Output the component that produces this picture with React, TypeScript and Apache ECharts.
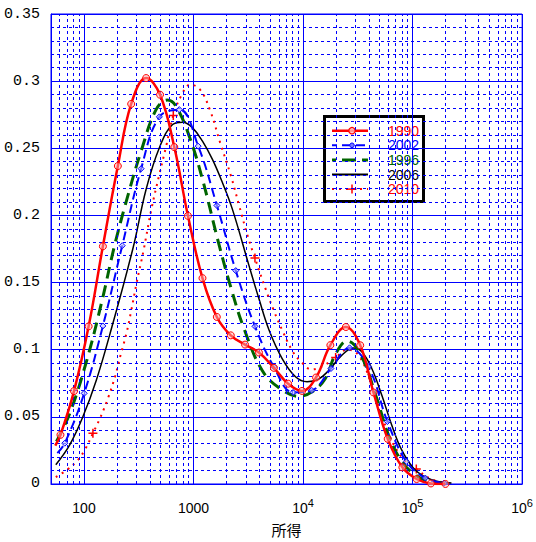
import React, { useEffect, useRef } from "react";
import * as echarts from "echarts";

// ---- data ----
const legendNames = ["1990", "2002", "1996", "2006", "2010"];

const x1990 = [54.7, 61.0, 81.1, 110.3, 148.8, 203.8, 269.7, 369.3, 494.9, 667.5, 889.5, 1207, 1632, 2188, 2951, 3957, 5415, 7305, 9793, 13130, 17750, 24600, 33250, 43920, 59260, 80620, 108750, 147000, 199500];
const y1990 = [0.0285, 0.0366, 0.0692, 0.1174, 0.177, 0.2368, 0.283, 0.3023, 0.2899, 0.2509, 0.1997, 0.1533, 0.1244, 0.1107, 0.1038, 0.0979, 0.0865, 0.0747, 0.0693, 0.0793, 0.1034, 0.1169, 0.1033, 0.0682, 0.0336, 0.0124, 0.0037, 0.0004, 0.0];
const unmarked1990 = [0];

const x2002 = [57.1, 66.8, 100.4, 148.8, 223.4, 332.5, 487.8, 741.3, 1103, 1635, 2430, 3638, 5415, 8111, 12000, 17970, 26580, 39570, 58880, 87640, 130500, 194200];
const y2002 = [0.023, 0.0304, 0.0675, 0.1177, 0.1775, 0.2348, 0.2734, 0.2788, 0.2516, 0.2074, 0.1589, 0.1174, 0.0873, 0.0682, 0.0697, 0.086, 0.1014, 0.0873, 0.0465, 0.0168, 0.0044, 0.0007];
const unmarked2002 = [0];

const x1996 = [56.1, 74.1, 105.1, 143.9, 190.1, 251.2, 332.5, 455.1, 576.8, 691.8, 913.9, 1207, 1688, 2188, 2890, 4240, 6140, 9140, 12070, 15980, 19700, 25230, 33250, 47070, 60130, 79430, 105100, 138900, 190100];
const y1996 = [0.0317, 0.0526, 0.091, 0.1342, 0.1775, 0.2145, 0.2479, 0.2788, 0.2859, 0.2813, 0.259, 0.2269, 0.18, 0.1466, 0.1157, 0.0845, 0.0712, 0.0653, 0.0687, 0.0786, 0.0964, 0.1064, 0.0971, 0.0638, 0.0366, 0.0168, 0.0069, 0.002, 0.0002];

const x2006 = [55.3, 74.1, 97.9, 129.6, 171.2, 279.0, 369.3, 487.8, 644.3, 794.3, 979.3, 1207, 1488, 1834, 2262, 3210, 3957, 4878, 6443, 8530, 10870, 13890, 17120, 22620, 28900, 34390, 42400, 52260, 64430, 79430, 105100, 148800, 226200];
const y2006 = [0.0143, 0.0291, 0.0502, 0.0773, 0.1107, 0.175, 0.2195, 0.2504, 0.2677, 0.2694, 0.2652, 0.2553, 0.2417, 0.2245, 0.2047, 0.1626, 0.1379, 0.1149, 0.0934, 0.0799, 0.0762, 0.0782, 0.0845, 0.0959, 0.1012, 0.0984, 0.086, 0.0662, 0.044, 0.0254, 0.0106, 0.0032, 0.0007];

const x2010 = [55.3, 70.1, 88.2, 103.0, 120.7, 141.0, 166.7, 193.0, 215.6, 243.0, 265.8, 303.3, 348.9, 412.6, 487.8, 564.6, 653.8, 773.0, 933.3, 1150, 1418, 1749, 2202, 2603, 3144, 3638, 4581, 5415, 6540, 8062, 9732, 12000, 15430, 19830, 25500, 32780, 43920, 60130, 80620, 108100, 147900, 198300];
const y2010 = [0.0052, 0.0106, 0.018, 0.0262, 0.0378, 0.0495, 0.0645, 0.0806, 0.0959, 0.1115, 0.1263, 0.1503, 0.1735, 0.2047, 0.2306, 0.2521, 0.2744, 0.2892, 0.2974, 0.2936, 0.2781, 0.2543, 0.2291, 0.2076, 0.1839, 0.1683, 0.1446, 0.129, 0.1135, 0.0986, 0.0905, 0.0853, 0.0882, 0.0942, 0.1001, 0.0949, 0.0697, 0.0378, 0.0193, 0.0111, 0.0037, 0.0007];
const marked2010 = [4, 16, 25, 33, 39];

const xMin = 50;
const xMax = 1000000;
const yMin = 0;
const yMax = 0.35;
const yStep = 0.05;
const minorDigits = [2, 3, 4, 5, 6, 7, 8, 9];
const decades = [10, 100, 1000, 10000, 100000];
const xAxisName = "所得";

const RED = "#ff0000";
const BLUE = "#0000ff";
const GREEN = "#006400";
const BLACK = "#000000";
const NUM_FONT = "'Liberation Sans', Arial, sans-serif";
const MONO_FONT = "'Liberation Mono', 'DejaVu Sans Mono', monospace";
const CJK_FONT = "'Noto Sans CJK JP', sans-serif";

const PLUS = "path://M0,5L10,5M5,0L5,10";

function build(xs: number[], ys: number[], hasMark: (i: number) => boolean) {
  return xs.map((x, i) =>
    hasMark(i) ? { value: [x, ys[i]] } : { value: [x, ys[i]], symbol: "none" }
  );
}

function legendGraphic() {
  const boxX = 324.5;
  const boxY = 116.5;
  const boxW = 99;
  const boxH = 85;
  const rowY0 = 130.7;
  const rowStep = 14.6;
  const lx1 = 332;
  const lx2 = 368;
  const mx = 352;
  const tx = 388;
  const styles: Record<string, any> = {
    "1990": { stroke: RED, lineWidth: 2.5 },
    "2002": { stroke: BLUE, lineWidth: 2, lineDash: [9, 5], lineDashOffset: 4 },
    "1996": { stroke: GREEN, lineWidth: 3, lineDash: [14, 6], lineDashOffset: -10 },
    "2006": { stroke: BLACK, lineWidth: 2 },
    "2010": { stroke: RED, lineWidth: 2, lineDash: [2, 5] },
  };
  const colors: Record<string, string> = {
    "1990": RED,
    "2002": BLUE,
    "1996": GREEN,
    "2006": BLACK,
    "2010": RED,
  };
  const children: any[] = [
    {
      type: "rect",
      shape: { x: boxX, y: boxY, width: boxW, height: boxH },
      style: { fill: "#ffffff", stroke: "#000000", lineWidth: 3 },
    },
  ];
  legendNames.forEach((n, i) => {
    const y = rowY0 + i * rowStep;
    children.push({
      type: "line",
      shape: { x1: lx1, y1: y, x2: lx2, y2: y },
      style: { ...styles[n], fill: "none" },
    });
    if (n === "1990") {
      children.push({
        type: "circle",
        shape: { cx: mx, cy: y, r: 3.2 },
        style: { fill: "rgba(255,190,190,0.8)", stroke: RED, lineWidth: 1.2 },
      });
    } else if (n === "2002") {
      children.push({
        type: "circle",
        shape: { cx: mx, cy: y, r: 2.3 },
        style: { fill: "rgba(120,120,255,1)", stroke: BLUE, lineWidth: 1 },
      });
    } else if (n === "2010") {
      children.push({
        type: "line",
        shape: { x1: mx - 4.5, y1: y, x2: mx + 4.5, y2: y },
        style: { stroke: RED, lineWidth: 1.5 },
      });
      children.push({
        type: "line",
        shape: { x1: mx, y1: y - 4.5, x2: mx, y2: y + 4.5 },
        style: { stroke: RED, lineWidth: 1.5 },
      });
    }
    children.push({
      type: "text",
      x: tx,
      y: y,
      style: {
        text: n,
        fill: colors[n],
        fontSize: 14,
        fontFamily: NUM_FONT,
        verticalAlign: "middle",
        align: "left",
      },
    });
  });
  return [{ type: "group", z: 100, silent: true, children }];
}

export default function App() {
  const ref = useRef<HTMLDivElement>(null);
  useEffect(() => {
    if (!ref.current) return;
    const chart = echarts.init(ref.current, null, { renderer: "svg" });

    const minorX: number[] = [];
    decades.forEach((d) =>
      minorDigits.forEach((k) => {
        const v = k * d;
        if (v > xMin && v < xMax) minorX.push(v);
      })
    );

    chart.setOption({
      animation: false,
      backgroundColor: "#ffffff",
      grid: {
        left: 51,
        right: 12,
        top: 14,
        bottom: 56,
        show: true,
        borderColor: BLUE,
        borderWidth: 1,
        backgroundColor: "transparent",
      },
      xAxis: {
        type: "log",
        logBase: 10,
        min: xMin,
        max: xMax,
        name: xAxisName,
        nameLocation: "middle",
        nameGap: 38,
        nameTextStyle: { fontFamily: CJK_FONT, fontSize: 15, color: "#000" },
        axisLine: { show: true, lineStyle: { color: BLUE, width: 1 } },
        axisTick: { show: false },
        splitLine: { show: true, lineStyle: { color: BLUE, width: 1 } },
        axisLabel: {
          showMinLabel: false,
          margin: 14,
          formatter: (v: number) => {
            const e = Math.round(Math.log10(v));
            if (e <= 3) return "{b|" + String(Math.pow(10, e)) + "}";
            return "{b|10}{s|" + e + "}";
          },
          rich: {
            b: { fontFamily: NUM_FONT, fontSize: 14, lineHeight: 20, color: "#000" },
            s: { fontFamily: NUM_FONT, fontSize: 11, lineHeight: 10, verticalAlign: "top", color: "#000" },
          },
        },
      },
      yAxis: {
        type: "value",
        min: yMin,
        max: yMax,
        interval: yStep,
        axisLine: { show: true, lineStyle: { color: BLUE, width: 1 } },
        axisTick: { show: false },
        splitLine: { show: true, lineStyle: { color: BLUE, width: 1 } },
        minorTick: { show: false, splitNumber: 5 },
        minorSplitLine: { show: true, lineStyle: { color: BLUE, width: 1, type: [3, 3] } },
        axisLabel: { margin: 11, fontFamily: MONO_FONT, fontSize: 15, color: "#000" },
      },
      graphic: legendGraphic(),
      series: [
        {
          type: "line",
          name: "__minor",
          data: [],
          silent: true,
          z: 1,
          markLine: {
            silent: true,
            symbol: ["none", "none"],
            label: { show: false },
            emphasis: { disabled: true },
            lineStyle: { color: BLUE, width: 1, type: [3, 3] },
            data: minorX.map((v) => ({ xAxis: v })),
          },
        },
        {
          type: "line",
          name: "2010",
          data: build(x2010, y2010, (i) => marked2010.includes(i)),
          smooth: 0.4,
          symbol: PLUS,
          symbolSize: 9,
          lineStyle: { color: RED, width: 2, type: [2, 5] },
          itemStyle: { color: RED, borderColor: RED, borderWidth: 1.5 },
          z: 2,
        },
        {
          type: "line",
          name: "2006",
          data: x2006.map((x, i) => [x, y2006[i]]),
          smooth: 0.4,
          symbol: "none",
          lineStyle: { color: BLACK, width: 1.5 },
          z: 3,
        },
        {
          type: "line",
          name: "1996",
          data: x1996.map((x, i) => [x, y1996[i]]),
          smooth: 0.4,
          symbol: "none",
          lineStyle: { color: GREEN, width: 3, type: [12, 7] },
          z: 4,
        },
        {
          type: "line",
          name: "2002",
          data: build(x2002, y2002, (i) => !unmarked2002.includes(i)),
          smooth: 0.4,
          symbol: "diamond",
          symbolSize: 6,
          lineStyle: { color: BLUE, width: 2, type: [9, 5] },
          itemStyle: { color: "rgba(190,190,255,0.6)", borderColor: BLUE, borderWidth: 1 },
          z: 5,
        },
        {
          type: "line",
          name: "1990",
          data: build(x1990, y1990, (i) => !unmarked1990.includes(i)),
          smooth: 0.4,
          symbol: "circle",
          symbolSize: 7,
          lineStyle: { color: RED, width: 2.5 },
          itemStyle: { color: "rgba(255,180,180,0.5)", borderColor: RED, borderWidth: 1 },
          z: 6,
        },
      ],
    });
    return () => chart.dispose();
  }, []);
  return (
    <div
      ref={ref}
      style={{ position: "absolute", left: 0, top: 0, width: 536, height: 542 }}
    />
  );
}
